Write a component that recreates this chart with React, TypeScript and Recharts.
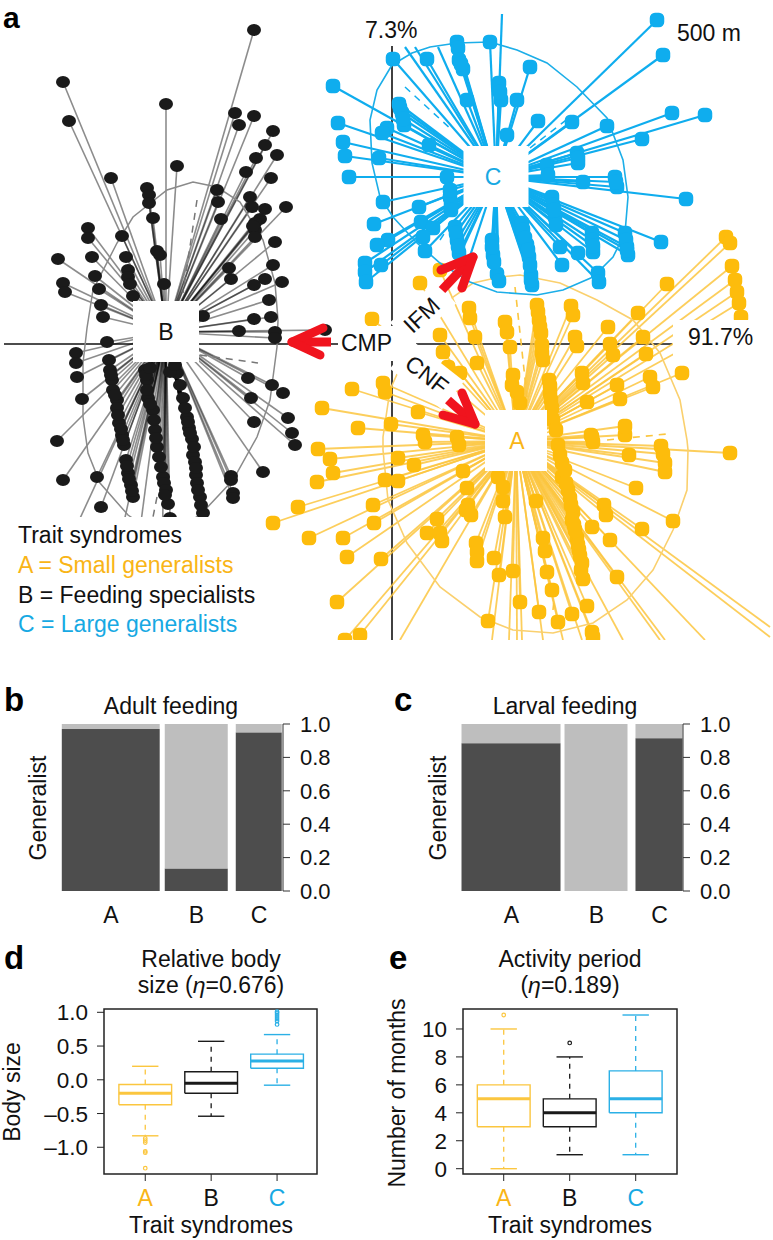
import { Bar, BarChart, ReferenceArea, ReferenceLine, Scatter, ScatterChart, XAxis, YAxis } from 'recharts';

type Pt = [number, number];

const YELLOW = '#FDBC0C';
const YELLOW_LINE = '#FBC63F';
const BLUE = '#0FADEE';
const BLACK = '#1A1A1A';
const FONT = '"Liberation Sans", Arial, sans-serif';

// panel a, ordination coordinates
const centreA: Pt = [516, 441];
const centreB: Pt = [166, 332];
const centreC: Pt = [496, 177];

const speciesB: Pt[] = [
  [254, 30], [63, 82], [69, 121], [166, 104], [177, 166], [111, 178], [235, 113], [239, 125], [254, 116], [273, 131],
  [265, 145], [256, 158], [277, 155], [246, 172], [271, 178], [147, 188], [149, 195], [149, 203], [217, 190], [218, 202],
  [221, 219], [250, 197], [252, 207], [265, 209], [286, 207], [260, 219], [255, 223], [255, 230], [255, 237], [153, 218],
  [88, 228], [88, 238], [122, 236], [92, 257], [126, 257], [58, 259], [275, 242], [157, 251], [160, 255], [273, 265],
  [229, 268], [231, 279], [128, 270], [128, 277], [130, 284], [63, 283], [65, 292], [95, 276], [99, 289], [164, 284],
  [265, 279], [282, 282], [254, 285], [133, 296], [101, 305], [103, 317], [269, 300], [271, 317], [254, 319], [203, 316],
  [239, 331], [275, 332], [275, 338], [325, 330], [107, 342], [76, 353], [76, 363], [77, 377], [82, 399], [57, 441],
  [63, 480], [97, 477], [101, 507], [109, 360], [110, 370], [112, 380], [113, 390], [117, 400], [117, 408], [119, 423],
  [122, 435], [124, 445], [126, 460], [128, 473], [131, 485], [133, 497], [145, 370], [147, 380], [148, 398], [153, 410],
  [155, 430], [157, 447], [159, 457], [163, 477], [164, 483], [166, 490], [168, 504], [170, 518], [177, 373], [183, 398],
  [187, 417], [189, 428], [192, 439], [193, 455], [195, 462], [196, 475], [197, 483], [200, 497], [203, 513], [248, 378],
  [272, 385], [283, 393], [251, 398], [288, 418], [254, 422], [292, 433], [295, 445], [263, 472], [231, 476], [231, 480],
  [233, 493], [233, 498], [111, 375], [115, 395], [118, 415], [121, 429], [123, 440], [127, 466], [129, 479], [132, 491],
  [146, 375], [147, 390], [150, 404], [154, 420], [156, 438], [161, 467], [165, 495], [180, 385], [185, 408], [188, 422],
  [190, 433], [194, 447], [196, 468], [198, 490], [201, 505], [150, 368], [170, 372], [175, 365], [253, 226],
];
const openEndsB: Pt[] = [[70, 540], [136, 560], [120, 540], [162, 560]];

const speciesC: Pt[] = [
  [657, 20], [663, 55], [333, 86], [338, 123], [343, 142], [345, 156], [349, 177], [393, 59], [427, 59], [457, 42],
  [458, 48], [490, 42], [463, 69], [467, 100], [530, 67], [499, 83], [501, 100], [517, 100], [538, 121], [572, 122],
  [607, 126], [672, 113], [705, 115], [642, 139], [399, 104], [402, 113], [404, 125], [387, 128], [382, 133], [429, 145],
  [379, 158], [447, 177], [577, 153], [578, 163], [547, 165], [548, 175], [583, 182], [615, 177], [617, 187], [686, 199],
  [383, 202], [374, 224], [419, 207], [450, 197], [451, 203], [421, 222], [433, 228], [423, 237], [388, 240], [377, 245],
  [425, 251], [381, 265], [365, 263], [365, 272], [366, 282], [661, 242], [455, 227], [457, 240], [459, 253], [492, 240],
  [493, 255], [497, 274], [499, 281], [522, 223], [527, 245], [529, 257], [531, 275], [532, 285], [560, 247], [562, 265],
  [578, 253], [593, 252], [592, 233], [552, 197], [555, 217], [625, 233], [627, 247], [628, 255], [598, 273], [599, 282],
  [507, 135], [523, 230], [525, 238], [528, 250], [530, 265], [531, 280], [456, 233], [458, 246], [492, 247], [494, 262],
  [553, 205], [554, 210], [556, 225], [592, 240], [593, 246], [626, 240], [627, 250], [450, 190], [451, 210], [578, 158],
  [616, 182], [500, 92], [459, 60], [461, 64], [400, 108], [403, 119],
];
const openEndsC: Pt[] = [[405, 47], [415, 47], [438, 47], [502, 14], [470, 256], [462, 250]];

const speciesA: Pt[] = [
  [318, 449], [330, 459], [333, 473], [317, 482], [298, 507], [273, 523], [309, 538], [343, 538], [347, 557], [337, 602],
  [345, 640], [360, 635], [373, 505], [374, 523], [381, 559], [385, 480], [398, 481], [398, 458], [414, 465], [423, 435],
  [425, 442], [457, 437], [459, 445], [463, 471], [467, 488], [468, 505], [466, 510], [471, 515], [437, 519], [427, 533],
  [440, 533], [442, 541], [498, 477], [503, 487], [503, 501], [505, 517], [476, 543], [477, 552], [477, 561], [494, 558],
  [499, 575], [513, 571], [520, 602], [488, 621], [539, 612], [558, 622], [572, 614], [587, 606], [592, 632], [593, 637],
  [536, 501], [543, 538], [545, 551], [547, 572], [552, 590], [583, 579], [582, 563], [579, 550], [577, 538], [573, 512],
  [572, 520], [562, 463], [562, 477], [568, 490], [592, 437], [593, 442], [625, 435], [629, 455], [661, 446], [663, 454],
  [665, 463], [665, 472], [730, 453], [636, 488], [604, 505], [606, 515], [592, 527], [610, 540], [642, 529], [673, 521],
  [617, 577], [440, 270], [420, 283], [372, 319], [469, 308], [470, 318], [440, 335], [475, 337], [443, 352], [448, 367],
  [477, 363], [505, 322], [507, 332], [510, 347], [513, 375], [460, 373], [352, 389], [383, 383], [385, 392], [322, 408],
  [418, 412], [391, 424], [358, 428], [726, 237], [730, 243], [732, 266], [735, 280], [737, 292], [739, 303], [741, 317],
  [667, 284], [638, 313], [608, 327], [537, 305], [539, 320], [541, 333], [571, 306], [573, 315], [575, 337], [577, 346],
  [610, 344], [613, 355], [643, 337], [646, 354], [682, 373], [650, 377], [653, 387], [617, 385], [620, 399], [582, 373],
  [583, 383], [587, 402], [542, 353], [543, 360], [517, 392], [520, 403], [549, 380], [550, 393], [625, 426], [591, 435],
  [553, 420], [556, 430], [558, 445], [560, 455], [565, 470], [566, 483], [570, 498], [571, 505], [574, 525], [575, 530],
  [578, 545], [580, 556], [581, 570], [550, 386], [551, 400], [552, 408], [538, 312], [540, 327], [542, 345], [512, 385],
];
const openEndsA: Pt[] = [
  [400, 640], [492, 640], [509, 640], [517, 640], [522, 640], [543, 640], [563, 640], [582, 640], [623, 640], [660, 640],
  [665, 640], [705, 640], [770, 627], [770, 637],
];

const contourA: Pt[] = [
  [500, 277], [520, 275], [560, 283], [597, 300], [633, 320], [660, 353], [680, 400], [687, 440], [688, 450], [687, 490],
  [673, 530], [653, 570], [627, 600], [593, 623], [553, 633], [513, 630], [480, 617], [440, 587], [407, 543], [388, 500],
  [383, 450], [383, 437], [390, 390], [410, 345], [453, 297], [473, 283], [500, 277],
];
const contourB: Pt[] = [
  [87, 328], [93, 290], [117, 243], [133, 217], [167, 190], [193, 182], [217, 187], [240, 202], [263, 240], [275, 283],
  [278, 320], [277, 347], [270, 400], [257, 437], [233, 480], [203, 512], [165, 540], [128, 515], [100, 483], [88, 453],
  [83, 417], [83, 363], [87, 328],
];
const contourC: Pt[] = [
  [392, 65], [412, 53], [430, 47], [457, 43], [490, 42], [517, 50], [547, 63], [577, 87], [607, 118], [623, 160],
  [628, 197], [625, 233], [613, 257], [593, 277], [563, 290], [537, 295], [497, 292], [470, 282], [440, 263], [417, 243],
  [393, 217], [380, 197], [372, 163], [370, 120], [377, 90], [392, 65],
];

const dashedRaysA: Pt[][] = [[[515, 287], [527, 397]], [[607, 440], [667, 434]], [[553, 610], [555, 590]]];
const dashedRaysB: Pt[][] = [[[197, 200], [183, 293]], [[200, 355], [258, 363]], [[157, 497], [153, 517]]];
const dashedRaysC: Pt[][] = [[[405, 87], [452, 130]], [[530, 148], [570, 117]], [[440, 240], [444, 234]]];

// panels b and c
const feedingCategories = ['A', 'B', 'C'];
const adultCentres = [0.2217, 0.6086, 0.8914];
const adultShares = [0.443, 0.285, 0.208];
const adultGeneralist = [0.97, 0.135, 0.95];
const larvalCentres = [0.224, 0.6086, 0.8936];
const larvalShares = [0.448, 0.285, 0.2127];
const larvalGeneralist = [0.885, 0, 0.915];

// panels d and e: A, B, C
const sizeQ1 = [-0.37, -0.2, 0.17];
const sizeMedian = [-0.2, -0.05, 0.28];
const sizeQ3 = [-0.07, 0.12, 0.38];
const sizeLow = [-0.83, -0.54, -0.08];
const sizeHigh = [0.2, 0.57, 0.67];
const sizeOutliers: Pt[] = [
  [1, -0.87], [1, -0.9], [1, -0.93], [1, -1.06], [1, -1.08], [1, -1.31],
  [3, 0.82], [3, 0.87], [3, 0.9], [3, 0.93], [3, 0.96], [3, 0.99], [3, 1.01],
];
const monthsQ1 = [3, 3, 4];
const monthsMedian = [5, 4, 5];
const monthsQ3 = [6, 5, 7];
const monthsLow = [0, 1, 1];
const monthsHigh = [10, 8, 11];
const monthsOutliers: Pt[] = [[1, 11], [2, 9]];

const groupColors = [YELLOW_LINE, BLACK, '#2BB0E6'];
const labelColors = ['#F9B517', '#111', '#17A9E3'];

const toXY = (pts: Pt[]) => pts.map(([x, y]) => ({ x, y }));
const noDot = () => <g />;

const squareDot = (fill: string, size: number) => (p: any) => (
  <rect x={p.cx - size / 2} y={p.cy - size / 2} width={size} height={size} rx={size * 0.36} fill={fill} />
);
const blackDot = (p: any) => <ellipse cx={p.cx} cy={p.cy} rx={7} ry={6} fill={BLACK} />;

function lineSeries(key: string, pts: Pt[], stroke: string, width: number, opacity = 1, dash?: string) {
  return (
    <Scatter
      key={key}
      data={toXY(pts)}
      shape={noDot}
      line={{ stroke, strokeWidth: width, strokeOpacity: opacity, strokeDasharray: dash }}
      isAnimationActive={false}
    />
  );
}

function star(name: string, centre: Pt, species: Pt[], openEnds: Pt[], stroke: string, width: number, opacity: number) {
  return [...species, ...openEnds].map((p, i) => lineSeries(`${name}-${i}`, [centre, p], stroke, width, opacity));
}

function MosaicBar(props: any) {
  const { x, y, width, height, fill, payload } = props;
  const w = payload.share * 221;
  return <rect x={x + width / 2 - w / 2} y={y} width={w} height={Math.max(height, 0)} fill={fill} />;
}

function MosaicPanel({ left, centres, shares, generalist }: { left: number; centres: number[]; shares: number[]; generalist: number[] }) {
  const rows = feedingCategories.map((c, i) => ({
    pos: centres[i],
    share: shares[i],
    generalist: generalist[i],
    specialist: 1 - generalist[i],
  }));
  return (
    <div style={{ position: 'absolute', left, top: 700, width: 360, height: 240 }}>
      <BarChart width={360} height={240} data={rows} margin={{ left: 62, top: 24, right: 17, bottom: 9 }}>
        <XAxis
          type="number"
          dataKey="pos"
          domain={[0, 1]}
          ticks={centres}
          interval={0}
          tickFormatter={(v: number) => feedingCategories[centres.indexOf(v)]}
          axisLine={false}
          tickLine={false}
          tickMargin={10}
          height={40}
          tick={{ fontSize: 23, fill: '#111', fontFamily: FONT }}
        />
        <YAxis
          orientation="right"
          domain={[0, 1]}
          ticks={[0, 0.2, 0.4, 0.6, 0.8, 1]}
          tickFormatter={(v: number) => v.toFixed(1)}
          width={60}
          tickSize={7}
          tickMargin={10}
          stroke="#333"
          interval={0}
          tick={{ fontSize: 22, fill: '#111', fontFamily: FONT }}
        />
        <Bar dataKey="generalist" stackId="g" fill="#4D4D4D" barSize={10} shape={MosaicBar} isAnimationActive={false} />
        <Bar dataKey="specialist" stackId="g" fill="#BEBEBE" barSize={10} shape={MosaicBar} isAnimationActive={false} />
      </BarChart>
    </div>
  );
}

function boxes(q1: number[], med: number[], q3: number[], low: number[], high: number[]) {
  const out: any[] = [];
  med.forEach((m, i) => {
    const g = i + 1;
    const c = groupColors[i];
    const k = `g${g}`;
    out.push(lineSeries(`${k}-box`, [[g - 0.4, q1[i]], [g + 0.4, q1[i]], [g + 0.4, q3[i]], [g - 0.4, q3[i]], [g - 0.4, q1[i]]], c, 1.4));
    out.push(lineSeries(`${k}-med`, [[g - 0.4, m], [g + 0.4, m]], c, 3));
    out.push(lineSeries(`${k}-capl`, [[g - 0.2, low[i]], [g + 0.2, low[i]]], c, 1.4));
    out.push(lineSeries(`${k}-caph`, [[g - 0.2, high[i]], [g + 0.2, high[i]]], c, 1.4));
    out.push(lineSeries(`${k}-wl`, [[g, q1[i]], [g, low[i]]], c, 1.3, 1, '5 5'));
    out.push(lineSeries(`${k}-wh`, [[g, q3[i]], [g, high[i]]], c, 1.3, 1, '5 5'));
  });
  return out;
}

function GroupTick(props: any) {
  const { x, y, payload } = props;
  return (
    <text x={x} y={y + 23} textAnchor="middle" fontSize={23} fontFamily={FONT} fill={labelColors[payload.value - 1]}>
      {feedingCategories[payload.value - 1]}
    </text>
  );
}

const outlierDot = (p: any) => (
  <circle cx={p.cx} cy={p.cy} r={1.8} fill="none" stroke={groupColors[p.payload.x - 1]} strokeWidth={1.2} />
);

function BoxPanel({ left, plotLeft, plotRight, xDomain, yDomain, yTicks, format, series, outliers }: any) {
  return (
    <div style={{ position: 'absolute', left, top: 1000, width: 380, height: 240 }}>
      <ScatterChart
        width={380}
        height={240}
        margin={{ left: plotLeft - 60, top: 9, right: 380 - plotRight, bottom: 36 }}
      >
        <XAxis
          type="number"
          dataKey="x"
          domain={xDomain}
          ticks={[1, 2, 3]}
          interval={0}
          allowDataOverflow
          axisLine={false}
          tickSize={7}
          stroke="#222"
          height={30}
          tick={<GroupTick />}
        />
        <YAxis
          type="number"
          dataKey="y"
          domain={yDomain}
          ticks={yTicks}
          interval={0}
          allowDataOverflow
          axisLine={false}
          tickSize={7}
          tickMargin={9}
          stroke="#222"
          width={60}
          tickFormatter={format}
          tick={{ fontSize: 22.5, fill: '#111', fontFamily: FONT }}
        />
        <ReferenceArea x1={xDomain[0]} x2={xDomain[1]} y1={yDomain[0]} y2={yDomain[1]} fill="none" stroke="#222" strokeWidth={1.5} />
        {series}
        <Scatter data={toXY(outliers)} shape={outlierDot} isAnimationActive={false} />
      </ScatterChart>
    </div>
  );
}

function Arrow({ tip, arm1, arm2, tail }: { tip: Pt; arm1: Pt; arm2: Pt; tail: Pt }) {
  const seg = (a: Pt, b: Pt, cap: 'round' | 'butt') => (
    <line x1={a[0]} y1={a[1]} x2={b[0]} y2={b[1]} stroke="#F0141E" strokeWidth={9} strokeLinecap={cap} />
  );
  return (
    <g>
      {seg(tip, tail, 'butt')}
      {seg(tip, arm1, 'round')}
      {seg(tip, arm2, 'round')}
    </g>
  );
}

function Overlay() {
  const t = { fontFamily: FONT, fontSize: 23, fill: '#111' };
  const square = (c: Pt, w: number) => <rect x={c[0] - w / 2} y={c[1] - 31} width={w} height={61} fill="#fff" />;
  return (
    <svg width={773} height={1240} style={{ position: 'absolute', left: 0, top: 0, pointerEvents: 'none' }}>
      <rect x={0} y={517} width={262} height={125} fill="#fff" />
      <rect x={673} y={320} width={100} height={42} fill="#fff" />
      <rect x={338} y={326} width={78} height={35} fill="#fff" />
      <rect x={-31} y={-15} width={62} height={30} fill="#fff" transform="translate(423 313) rotate(-42)" />
      <rect x={-33} y={-18} width={66} height={36} fill="#fff" transform="translate(427 375) rotate(38)" />
      {square(centreA, 62)}
      {square(centreB, 66)}
      {square(centreC, 65)}
      <text {...t} x={166} y={340} textAnchor="middle">B</text>
      <text {...t} x={493} y={185} textAnchor="middle" fill="#17A9E3">C</text>
      <text {...t} x={517} y={449} textAnchor="middle" fill="#F9B517">A</text>
      <text {...t} x={365} y={38}>7.3%</text>
      <text {...t} x={677} y={41}>500 m</text>
      <text {...t} x={688} y={345}>91.7%</text>
      <text {...t} x={341} y={351}>CMP</text>
      <text {...t} textAnchor="middle" transform="translate(427 321) rotate(-43)">IFM</text>
      <text {...t} textAnchor="middle" transform="translate(422 381) rotate(38)">CNF</text>
      <Arrow tip={[292, 342]} arm1={[323, 328]} arm2={[320, 355]} tail={[331, 342]} />
      <Arrow tip={[473, 257]} arm1={[441, 270]} arm2={[462, 288]} tail={[442, 290]} />
      <Arrow tip={[475, 424]} arm1={[443, 415]} arm2={[462, 393]} tail={[448, 400]} />

      <text {...t} x={18} y={543}>Trait syndromes</text>
      <text {...t} x={18} y={573} fill="#F9B517">A = Small generalists</text>
      <text {...t} x={18} y={603}>B = Feeding specialists</text>
      <text {...t} x={18} y={632} fill="#17A9E3">C = Large generalists</text>

      <g fontFamily={FONT} fontWeight="bold" fill="#000">
        <text x={3} y={27.5} fontSize={30}>a</text>
        <text x={4} y={711} fontSize={33}>b</text>
        <text x={394} y={711} fontSize={33}>c</text>
        <text x={4} y={969} fontSize={33}>d</text>
        <text x={389} y={969} fontSize={33}>e</text>
      </g>

      <text {...t} x={171} y={714} textAnchor="middle">Adult feeding</text>
      <text {...t} x={565} y={714} textAnchor="middle">Larval feeding</text>
      <text {...t} textAnchor="middle" transform="translate(46 808) rotate(-90)">Generalist</text>
      <text {...t} textAnchor="middle" transform="translate(446 808) rotate(-90)">Generalist</text>

      <text {...t} x={211} y={967} textAnchor="middle">Relative body</text>
      <text {...t} x={211} y={993} textAnchor="middle">size (<tspan fontStyle="italic">η</tspan>=0.676)</text>
      <text {...t} x={570} y={967} textAnchor="middle">Activity period</text>
      <text {...t} x={570} y={993} textAnchor="middle">(<tspan fontStyle="italic">η</tspan>=0.189)</text>
      <text {...t} textAnchor="middle" transform="translate(20 1092) rotate(-90)">Body size</text>
      <text {...t} textAnchor="middle" transform="translate(405 1093) rotate(-90)">Number of months</text>
      <text {...t} x={211} y={1233} textAnchor="middle">Trait syndromes</text>
      <text {...t} x={570} y={1233} textAnchor="middle">Trait syndromes</text>
    </svg>
  );
}

export default function App() {
  return (
    <div style={{ position: 'absolute', left: 0, top: 0, width: 773, height: 1240, background: '#fff', fontFamily: FONT, overflow: 'hidden' }}>
      <div style={{ position: 'absolute', left: 0, top: 0, width: 773, height: 641, overflow: 'hidden' }}>
        <ScatterChart width={773} height={640} margin={{ left: 0, top: 0, right: 0, bottom: 0 }}>
          <XAxis type="number" dataKey="x" domain={[0, 773]} hide />
          <YAxis type="number" dataKey="y" domain={[0, 640]} reversed hide />
          {star('a', centreA, speciesA, openEndsA, YELLOW_LINE, 1.8, 0.85)}
          {lineSeries('contour-a', contourA, '#FAD06E', 1.6)}
          {dashedRaysA.map((r, i) => lineSeries(`dash-a-${i}`, r, YELLOW_LINE, 1.6, 1, '7 6'))}
          <Scatter data={toXY(speciesA)} shape={squareDot(YELLOW, 14.5)} isAnimationActive={false} />
          {star('b', centreB, speciesB, openEndsB, '#000', 1.6, 0.45)}
          {lineSeries('contour-b', contourB, '#8A8A8A', 1.5)}
          {dashedRaysB.map((r, i) => lineSeries(`dash-b-${i}`, r, '#777', 1.5, 1, '7 6'))}
          <Scatter data={toXY(speciesB)} shape={blackDot} isAnimationActive={false} />
          {star('c', centreC, speciesC, openEndsC, BLUE, 2.2, 1)}
          {lineSeries('contour-c', contourC, '#1CAEE8', 1.6)}
          {dashedRaysC.map((r, i) => lineSeries(`dash-c-${i}`, r, BLUE, 1.5, 1, '7 6'))}
          <Scatter data={toXY(speciesC)} shape={squareDot(BLUE, 14.5)} isAnimationActive={false} />
          <ReferenceLine segment={[{ x: 392, y: 46 }, { x: 392, y: 640 }]} stroke="#111" strokeWidth={1.6} />
          <ReferenceLine segment={[{ x: 4, y: 344 }, { x: 672, y: 344 }]} stroke="#111" strokeWidth={1.6} />
        </ScatterChart>
      </div>

      <MosaicPanel left={0} centres={adultCentres} shares={adultShares} generalist={adultGeneralist} />
      <MosaicPanel left={400} centres={larvalCentres} shares={larvalShares} generalist={larvalGeneralist} />

      <BoxPanel
        left={0}
        plotLeft={104}
        plotRight={317}
        xDomain={[0.374, 3.606]}
        yDomain={[-1.396, 1.049]}
        yTicks={[-1, -0.5, 0, 0.5, 1]}
        format={(v: number) => (v < 0 ? `–${Math.abs(v).toFixed(1)}` : v.toFixed(1))}
        series={boxes(sizeQ1, sizeMedian, sizeQ3, sizeLow, sizeHigh)}
        outliers={sizeOutliers}
      />
      <BoxPanel
        left={370}
        plotLeft={93}
        plotRight={307}
        xDomain={[0.383, 3.626]}
        yDomain={[-0.38, 11.43]}
        yTicks={[0, 2, 4, 6, 8, 10]}
        format={(v: number) => String(v)}
        series={boxes(monthsQ1, monthsMedian, monthsQ3, monthsLow, monthsHigh)}
        outliers={monthsOutliers}
      />

      <Overlay />
    </div>
  );
}
